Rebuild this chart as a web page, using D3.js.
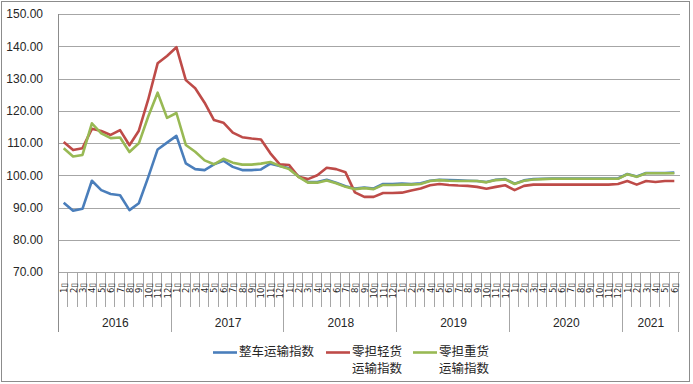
<!DOCTYPE html>
<html>
<head>
<meta charset="utf-8">
<script src="https://cdn.jsdelivr.net/npm/d3@7"></script>
<style>
  body { margin: 0; background: #fff; }
  svg { display: block; }
</style>
</head>
<body>
<div class="chart"></div>
<script>
// years + month labels (Jan 2016 - Jun 2021)
var years = ["2016", "2017", "2018", "2019", "2020", "2021"];
var monthsPerYear = [12, 12, 12, 12, 12, 6];
var yTicks = [70, 80, 90, 100, 110, 120, 130, 140, 150];

var seriesNames = ["整车运输指数", "零担轻货运输指数", "零担重货运输指数"];

// 整车运输指数
var zhengche = [91.5, 89.0, 89.6, 98.3, 95.4, 94.2, 93.8, 89.2, 91.3, 99.4, 108.0, 110.1,
  112.2, 103.7, 101.9, 101.6, 103.4, 104.5, 102.6, 101.6, 101.6, 101.8, 103.6, 102.9,
  102.2, 99.7, 97.9, 97.9, 98.6, 97.7, 96.6, 95.9, 96.2, 95.9, 97.3, 97.3,
  97.4, 97.3, 97.5, 98.3, 98.6, 98.5, 98.4, 98.3, 98.2, 97.9, 98.6, 98.8,
  97.4, 98.4, 98.8, 98.9, 99.0, 99.0, 99.0, 99.0, 99.0, 99.0, 99.0, 99.0,
  100.4, 99.6, 100.7, 100.7, 100.7, 100.8];

// 零担轻货运输指数
var qinghuo = [110.3, 107.8, 108.4, 114.4, 113.7, 112.5, 114.0, 109.3, 113.8, 123.5, 134.7, 137.0,
  139.7, 129.5, 127.0, 122.5, 117.1, 116.3, 113.2, 111.8, 111.4, 111.1, 106.8, 103.4,
  103.2, 99.5, 98.8, 100.0, 102.3, 101.9, 100.9, 94.7, 93.3, 93.3, 94.5, 94.5,
  94.6, 95.3, 95.9, 96.9, 97.3, 97.0, 96.8, 96.7, 96.4, 95.8, 96.4, 96.9,
  95.4, 96.7, 97.1, 97.1, 97.1, 97.1, 97.1, 97.1, 97.1, 97.1, 97.1, 97.3,
  98.2, 97.1, 98.2, 97.9, 98.2, 98.2];

// 零担重货运输指数
var zhonghuo = [108.4, 105.8, 106.3, 116.1, 113.0, 111.5, 111.7, 107.2, 109.9, 118.2, 125.6, 117.8,
  119.3, 109.4, 107.3, 104.6, 103.4, 105.1, 103.9, 103.3, 103.3, 103.6, 104.1, 102.9,
  101.9, 99.5, 97.7, 97.7, 98.4, 97.5, 96.4, 95.7, 96.0, 95.7, 97.0, 97.0,
  97.1, 97.1, 97.3, 98.2, 98.5, 98.3, 98.2, 98.2, 98.2, 97.8, 98.5, 98.7,
  97.3, 98.3, 98.7, 98.8, 98.9, 98.9, 98.9, 98.9, 98.9, 98.9, 98.9, 98.9,
  100.3, 99.5, 100.6, 100.6, 100.6, 100.6];

var colors = ["#4a7ebb", "#be4b48", "#98b954"];

var svgWidth = 693;
var svgHeight = 384;

var plot = { left: 59, right: 679, top: 14, bottom: 272 };

var svg = d3.select(".chart")
  .append("svg")
  .attr("width", svgWidth)
  .attr("height", svgHeight);

// outer border of the chart area
svg.append("rect")
  .attr("x", 1.5).attr("y", 1.5)
  .attr("width", 688).attr("height", 380)
  .attr("fill", "#fff")
  .attr("stroke", "#8c8c8c")
  .attr("stroke-width", 1);

// build the month category list
var months = [];
years.forEach(function(y, yi) {
  for (var m = 1; m <= monthsPerYear[yi]; m++) {
    months.push({ year: y, month: m, idx: months.length });
  }
});

var xScale = d3.scaleBand()
  .domain(months.map(d => d.idx))
  .range([plot.left, plot.right])
  .padding(0);

var yScale = d3.scaleLinear()
  .domain([70, 150])
  .range([plot.bottom, plot.top]);

var bw = xScale.bandwidth();

// horizontal gridlines
svg.append("g")
  .selectAll("line")
  .data(yTicks)
  .enter()
  .append("line")
  .attr("x1", plot.left - 1)
  .attr("x2", plot.right + 1)
  .attr("y1", d => Math.round(yScale(d)) + 0.5)
  .attr("y2", d => Math.round(yScale(d)) + 0.5)
  .attr("stroke", "#a6a6a6")
  .attr("stroke-width", 1);

// y axis labels
var leftAxis = d3.axisLeft(yScale)
  .tickValues(yTicks)
  .tickSize(0)
  .tickPadding(15)
  .tickFormat(d3.format(".2f"));

var yAxis = svg.append("g")
  .attr("transform", `translate(${plot.left - 1}, 0)`)
  .call(leftAxis);
yAxis.select(".domain").remove();
yAxis.selectAll("text")
  .attr("font-family", "Liberation Sans, Arial, sans-serif")
  .attr("font-size", 12)
  .attr("fill", "#262626");

// category separators: months short, years long
var bounds = d3.range(months.length + 1);
var yearStarts = [];
var acc = 0;
monthsPerYear.forEach(function(n) { yearStarts.push(acc); acc += n; });
yearStarts.push(acc);

svg.append("g")
  .selectAll("line")
  .data(bounds)
  .enter()
  .append("line")
  .attr("x1", d => Math.round(plot.left + d * bw) - 0.5)
  .attr("x2", d => Math.round(plot.left + d * bw) - 0.5)
  .attr("y1", plot.bottom)
  .attr("y2", d => yearStarts.indexOf(d) >= 0 ? 332 : 307)
  .attr("stroke", "#a6a6a6")
  .attr("stroke-width", 1);

// left axis line
svg.append("line")
  .attr("x1", plot.left - 0.5).attr("x2", plot.left - 0.5)
  .attr("y1", plot.top).attr("y2", 332)
  .attr("stroke", "#8c8c8c");

// month labels (rotated, 月 shows as a box in the original)
svg.append("g")
  .selectAll("text")
  .data(months)
  .enter()
  .append("text")
  .attr("transform", d => `translate(${xScale(d.idx) + bw / 2 + 0.5}, 283) rotate(-90)`)
  .attr("text-anchor", "end")
  .attr("dy", "0.35em")
  .attr("font-family", "DejaVu Sans, sans-serif")
  .attr("font-size", 8.5)
  .attr("fill", "#1f1f1f")
  .text(d => d.month + "\u25AF");

// year labels
svg.append("g")
  .selectAll("text")
  .data(years)
  .enter()
  .append("text")
  .attr("x", (d, i) => plot.left + (yearStarts[i] + monthsPerYear[i] / 2) * bw)
  .attr("y", 327)
  .attr("text-anchor", "middle")
  .attr("font-family", "Liberation Sans, Arial, sans-serif")
  .attr("font-size", 12)
  .attr("fill", "#262626")
  .text(d => d);

// series lines
var line = d3.line()
  .x((d, i) => xScale(i) + bw / 2)
  .y(d => yScale(d));

[zhengche, qinghuo, zhonghuo].forEach(function(series, i) {
  svg.append("path")
    .datum(series)
    .attr("d", line)
    .attr("fill", "none")
    .attr("stroke", colors[i])
    .attr("stroke-width", 2.6)
    .attr("stroke-linejoin", "round");
});

// legend
var legendItems = [
  { x: 213, lines: ["整车运输指数"] },
  { x: 326, lines: ["零担轻货", "运输指数"] },
  { x: 413, lines: ["零担重货", "运输指数"] }
];

var legend = svg.append("g");
legendItems.forEach(function(item, i) {
  legend.append("line")
    .attr("x1", item.x).attr("x2", item.x + 24)
    .attr("y1", 352.5).attr("y2", 352.5)
    .attr("stroke", colors[i])
    .attr("stroke-width", 2.6);
  item.lines.forEach(function(s, j) {
    legend.append("text")
      .attr("x", item.x + 26)
      .attr("y", 356 + j * 17)
      .attr("font-family", "Noto Sans CJK SC, sans-serif")
      .attr("font-size", 12.5)
      .attr("fill", "#262626")
      .text(s);
  });
});
</script>
</body>
</html>
